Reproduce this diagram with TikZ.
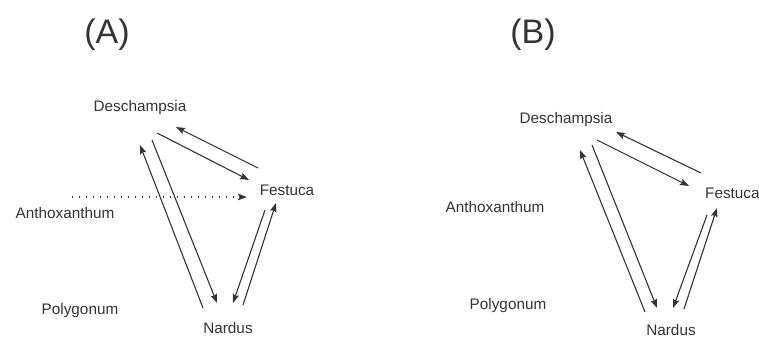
\documentclass[tikz,border=0pt]{standalone}
\usepackage{fontspec}
\setmainfont{Liberation Sans}
\usepackage{xcolor}
\usetikzlibrary{arrows.meta}
\definecolor{ink}{HTML}{333333}

\begin{document}
\begin{tikzpicture}[x=1pt,y=-1pt,
    species/.style={text=ink, font=\fontsize{15.3}{17}\selectfont, inner sep=0pt},
    panel/.style={text=ink, font=\fontsize{34}{38}\selectfont, inner sep=0pt},
    link/.style={draw=ink, line width=1.1pt, -{Stealth[length=9pt,width=6.5pt,inset=1.5pt]}},
    weak/.style={link, line width=1.4pt, dash pattern=on 1.4pt off 5.6pt}]
\useasboundingbox (0,0) rectangle (759,339);

% Panel titles
\node[panel] (titleA) at (107,35) {(A)};
\node[panel] (titleB) at (533,35) {(B)};

% Species, panel A
\node[species] (dA) at (140,108) {Deschampsia};
\node[species] (fA) at (287,190) {Festuca};
\node[species] (aA) at (65,213) {Anthoxanthum};
\node[species] (pA) at (80,311) {Polygonum};
\node[species] (nA) at (228,328) {Nardus};

% Species, panel B
\node[species] (dB) at (566,120) {Deschampsia};
\node[species, anchor=west] (fB) at (705,193) {Festuca};
\node[species] (aB) at (495,207) {Anthoxanthum};
\node[species] (pB) at (508,306) {Polygonum};
\node[species] (nB) at (671,330.5) {Nardus};

% Interactions, panel A
\draw[link] ([shift={(-29,-22)}]fA.center) -- ([shift={(36,19)}]dA.center);
\draw[link] ([shift={(17,25)}]dA.center) -- ([shift={(-38,-10)}]fA.center);
\draw[link] ([shift={(-25,-20)}]nA.center) -- ([shift={(0,37)}]dA.center);
\draw[link] ([shift={(12,32)}]dA.center) -- ([shift={(-11,-25)}]nA.center);
\draw[link] ([shift={(-22,20)}]fA.center) -- ([shift={(5,-25)}]nA.center);
\draw[link] ([shift={(15,-23)}]nA.center) -- ([shift={(-11,13)}]fA.center);
\draw[weak] ([shift={(7,-16)}]aA.center) -- ([shift={(-40,7)}]fA.center);

% Interactions, panel B
\draw[link] ([shift={(-4,-20)}]fB.west) -- ([shift={(50,12)}]dB.center);
\draw[link] ([shift={(31,20)}]dB.center) -- ([shift={(-16,-7)}]fB.west);
\draw[link] ([shift={(-26,-18.5)}]nB.center) -- ([shift={(14,30)}]dB.center);
\draw[link] ([shift={(26,25)}]dB.center) -- ([shift={(-14,-22.5)}]nB.center);
\draw[link] ([shift={(2,22)}]fB.west) -- ([shift={(2,-22.5)}]nB.center);
\draw[link] ([shift={(13,-21.5)}]nB.center) -- ([shift={(12,15)}]fB.west);

\end{tikzpicture}
\end{document}
